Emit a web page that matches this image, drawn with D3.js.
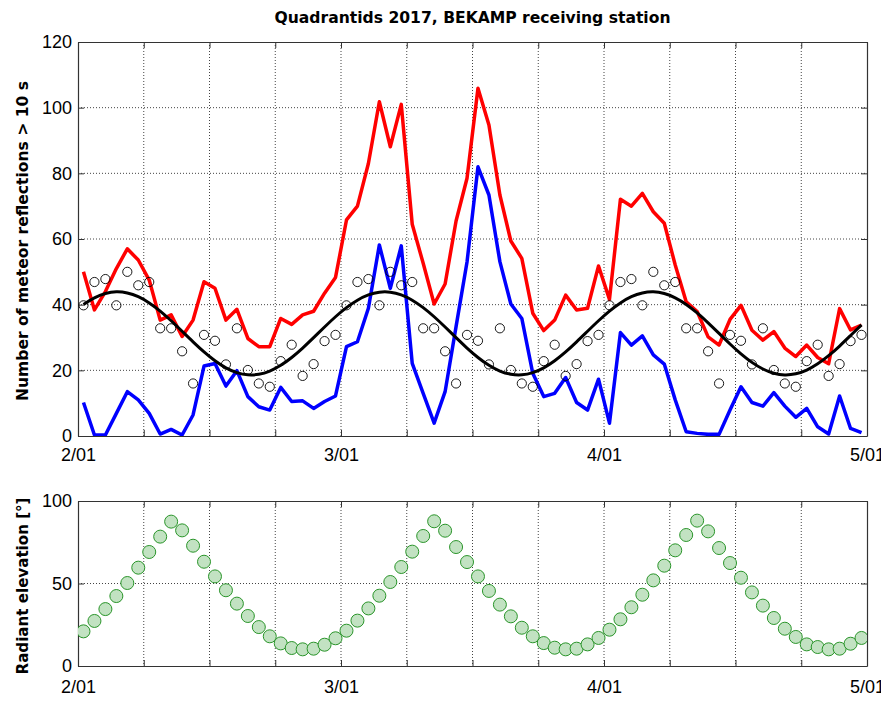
<!DOCTYPE html>
<html><head><meta charset="utf-8">
<script src="https://cdn.jsdelivr.net/npm/d3@7"></script>
<style>
body{margin:0;background:#fff;}
svg{display:block;font-family:"Liberation Sans",Arial,Helvetica,sans-serif;}
</style></head><body>
<script>
const title = "Quadrantids 2017, BEKAMP receiving station";
const yLabelTop = "Number of meteor reflections > 10 s";
const yLabelBottom = "Radiant elevation [°]";
const xTickHours = [0, 24, 48, 72];
const xTickLabels = ["2/01", "3/01", "4/01", "5/01"];
const yTicksTop = [0, 20, 40, 60, 80, 100, 120];
const yTicksBottom = [0, 50, 100];

// hourly counts (72 hours)
const redSeries = [50,38.4,44,51,57,53.6,47.5,35.3,36.9,30.3,35.3,47,45,35.3,38.6,29.7,27.2,27.2,35.8,34,36.9,38,43.5,48.3,
  65.8,70,83,101.8,88.1,101,64.5,52.6,40.2,46.3,65.5,78.5,105.9,94.7,73.4,59.4,54.1,37.4,32.1,35.3,42.9,38.4,38.9,51.8,
  41.6,72.1,70,73.9,68.3,64.8,52.1,40.9,37.9,30.2,27.7,35.5,39.8,32.2,29.2,31.8,26.8,24.2,27.7,23.9,22,38.8,32.3,33.8];
const blueSeries = [10.2,0.3,0.3,6.9,13.5,11,6.9,0.6,2,0.3,6.4,21.3,22.1,15.2,19.9,12,8.9,7.9,14.8,10.5,10.7,8.4,10.5,12.2,
  27.2,28.7,38.9,58.2,45,57.9,22.1,13,3.9,13.5,33.3,53,82,73.4,53.1,40.2,35.8,19.1,12,13,17.8,10.2,7.9,17.3,
  3.9,31.5,27.7,30.5,24.7,21.9,11,1.3,0.8,0.5,0.5,7.9,15,10.2,9.1,13.2,9.1,5.7,8.4,2.8,0.6,12.2,2.3,1];
const circleSeries = [39.8,46.9,47.8,39.8,50,45.9,46.9,32.8,32.8,25.8,16,30.8,29,21.8,32.8,20.1,16,15,22.8,27.8,18.3,21.9,28.9,30.8,
  39.8,46.9,47.8,39.8,50,45.9,46.9,32.8,32.8,25.8,16,30.8,29,21.8,32.8,20.1,16,15,22.8,27.8,18.3,21.9,28.9,30.8,
  39.8,46.9,47.8,39.8,50,45.9,46.9,32.8,32.8,25.8,16,30.8,29,21.8,32.8,20.1,16,15,22.8,27.8,18.3,21.9,28.9,30.8];
const fitSeries = [40.08,42.09,43.39,43.9,43.56,42.42,40.53,38.04,35.1,31.9,28.66,25.59,22.9,20.76,19.3,18.64,18.81,19.79,21.53,23.92,26.79,29.95,33.2,36.32,
  39.1,41.37,42.97,43.8,43.8,42.97,41.37,39.1,36.32,33.2,29.95,26.79,23.92,21.53,19.79,18.81,18.64,19.3,20.76,22.9,25.59,28.66,31.9,35.1,
  38.04,40.53,42.42,43.56,43.9,43.39,42.09,40.08,37.48,34.47,31.25,28.03,25.02,22.42,20.41,19.11,18.6,18.94,20.08,21.97,24.46,27.4,30.6,33.84];
const elevationSeries = [21,27.3,34.5,42.4,50.3,59.6,69.1,78.4,87.5,82.2,72.9,63.2,54.3,45.9,37.8,30.3,23.6,18,13.7,10.9,10.1,10.5,12.9,16.8,
  21.4,27.5,34.9,42.6,50.9,60,69.3,78.8,87.7,82,72.1,63,54.3,45.5,37.2,30.1,23.2,18,13.9,11.1,10.1,10.5,13.1,17,
  22,28.3,35.6,43.2,51.9,60.8,70.1,79.4,88.1,81.6,71.5,62.4,53.5,44.6,36.6,29.1,22.6,17.6,13.1,11.5,10.1,10.5,13.5,17];

const W = 881, H = 701;
const svg = d3.select("body").append("svg").attr("width", W).attr("height", H);

const xL = 78, xR = 867;
const pTop = {y0: 42, y1: 436, pad: 12}, pBot = {y0: 501, y1: 666, pad: 14};
const x = d3.scaleLinear().domain([0, 72]).range([xL, xR]);
const yT = d3.scaleLinear().domain([0, 120]).range([pTop.y1, pTop.y0]);
const yB = d3.scaleLinear().domain([0, 100]).range([pBot.y1, pBot.y0]);
const hours = d3.range(72).map(i => i + 0.5);
const gridHours = d3.range(0, 73, 6);

const defs = svg.append("defs");
defs.append("clipPath").attr("id","clipTop").append("rect")
  .attr("x", xL).attr("y", pTop.y0).attr("width", xR - xL).attr("height", pTop.y1 - pTop.y0);
defs.append("clipPath").attr("id","clipBot").append("rect")
  .attr("x", xL).attr("y", pBot.y0).attr("width", xR - xL).attr("height", pBot.y1 - pBot.y0);

function panel(y, yTicks, p) {
  const g = svg.append("g");
  g.selectAll(".vg").data(gridHours.slice(1, -1)).join("line")
    .attr("x1", d => x(d)).attr("x2", d => x(d)).attr("y1", p.y0).attr("y2", p.y1)
    .attr("stroke", "#444").attr("stroke-width", 1).attr("stroke-dasharray", "1,2");
  g.selectAll(".hg").data(yTicks.slice(1, -1)).join("line")
    .attr("x1", xL).attr("x2", xR).attr("y1", d => y(d)).attr("y2", d => y(d))
    .attr("stroke", "#444").attr("stroke-width", 1).attr("stroke-dasharray", "1,2");
  const ax = [
    d3.axisBottom(x).tickValues(gridHours).tickFormat(d => { const k = xTickHours.indexOf(d); return k >= 0 ? xTickLabels[k] : ""; }).tickSizeInner(-6).tickSizeOuter(0).tickPadding(p.pad),
    d3.axisLeft(y).tickValues(yTicks).tickSizeInner(-6).tickSizeOuter(0).tickPadding(6),
    d3.axisTop(x).tickValues(gridHours).tickFormat("").tickSizeInner(-6).tickSizeOuter(0),
    d3.axisRight(y).tickValues(yTicks).tickFormat("").tickSizeInner(-6).tickSizeOuter(0)
  ];
  const tr = [`translate(0,${p.y1})`, `translate(${xL},0)`, `translate(0,${p.y0})`, `translate(${xR},0)`];
  ax.forEach((a, k) => {
    const ga = g.append("g").attr("transform", tr[k]).call(a);
    ga.selectAll("path.domain").attr("stroke", "#333").attr("stroke-width", 1.2);
    ga.selectAll(".tick line").attr("stroke", "#333");
    ga.selectAll("text").attr("font-size", 18).attr("fill", "#000")
      .attr("font-family", '"Liberation Sans",Arial,sans-serif');
  });
  return g;
}

panel(yT, yTicksTop, pTop);
panel(yB, yTicksBottom, pBot);

const gT = svg.append("g").attr("clip-path", "url(#clipTop)");
const line = (arr) => d3.line().x((d, i) => x(hours[i])).y(d => yT(d))(arr);
gT.append("path").attr("d", line(redSeries)).attr("fill", "none").attr("stroke", "#ff0000")
  .attr("stroke-width", 3.5).attr("stroke-linejoin", "round");
gT.append("path").attr("d", line(blueSeries)).attr("fill", "none").attr("stroke", "#0000ff")
  .attr("stroke-width", 3.5).attr("stroke-linejoin", "round");
gT.selectAll("circle.o").data(circleSeries).join("circle")
  .attr("cx", (d, i) => x(hours[i])).attr("cy", d => yT(d)).attr("r", 4.6)
  .attr("fill", "none").attr("stroke", "#000").attr("stroke-width", 0.9);
gT.append("path").attr("d", d3.line().curve(d3.curveNatural).x((d, i) => x(hours[i])).y(d => yT(d))(fitSeries))
  .attr("fill", "none").attr("stroke", "#000").attr("stroke-width", 3);

const gB = svg.append("g").attr("clip-path", "url(#clipBot)");
gB.selectAll("circle.e").data(elevationSeries).join("circle")
  .attr("cx", (d, i) => x(hours[i])).attr("cy", d => yB(d)).attr("r", 6.5)
  .attr("fill", "#c2e2c2").attr("stroke", "#2a952a").attr("stroke-width", 1);

const boldFont = '"DejaVu Sans","Liberation Sans",Arial,sans-serif';
svg.append("text").attr("x", (xL + xR) / 2).attr("y", 23).attr("text-anchor", "middle")
  .attr("font-family", boldFont).attr("font-size", 15).attr("font-weight", "bold")
  .attr("textLength", 396).attr("lengthAdjust", "spacingAndGlyphs").text(title);
svg.append("text").attr("transform", `translate(28,241) rotate(-90)`)
  .attr("text-anchor", "middle").attr("font-family", boldFont).attr("font-size", 15).attr("font-weight", "bold")
  .attr("textLength", 320).attr("lengthAdjust", "spacingAndGlyphs").text(yLabelTop);
svg.append("text").attr("transform", `translate(28,586) rotate(-90)`)
  .attr("text-anchor", "middle").attr("font-family", boldFont).attr("font-size", 15).attr("font-weight", "bold")
  .attr("textLength", 177).attr("lengthAdjust", "spacingAndGlyphs").text(yLabelBottom);
</script>
</body></html>
